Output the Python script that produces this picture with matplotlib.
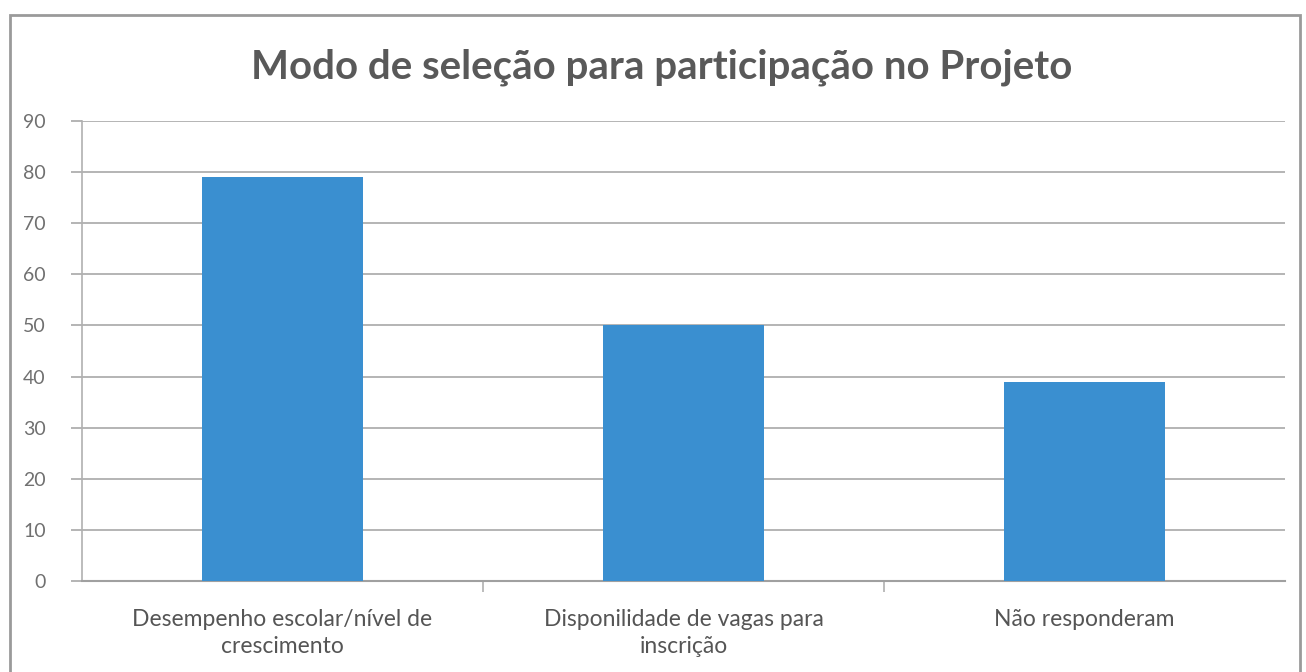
import matplotlib
matplotlib.use("Agg")
import matplotlib.pyplot as plt
from matplotlib.patches import Rectangle

categories = ["Desempenho escolar/nível de\ncrescimento",
              "Disponilidade de vagas para\ninscrição",
              "Não responderam"]
values = [79, 50, 39]
yticks = [0, 10, 20, 30, 40, 50, 60, 70, 80, 90]
title = "Modo de seleção para participação no Projeto"

plt.rcParams['font.family'] = ['Lato', 'DejaVu Sans']

fig = plt.figure(figsize=(13.06, 6.72), dpi=100)
fig.patch.set_facecolor("white")
fig.add_artist(Rectangle((10/1306, -0.01), 1290/1306, 1 - 15/672 + 0.01,
                         transform=fig.transFigure, fill=False,
                         edgecolor="#9a9a9a", linewidth=2.0))

ax = fig.add_axes([82/1306, 1 - 581/672, (1285 - 82)/1306, (581 - 121)/672])
x = list(range(len(categories)))
ax.bar(x, values, width=0.4, color="#3a8fd0", zorder=3)
ax.set_xlim(-0.5, 2.5)
ax.set_ylim(0, 90)
ax.set_yticks(yticks)
ax.set_yticklabels([str(v) for v in yticks], color="#707070", fontsize=14)
ax.yaxis.grid(True, color="#a8a8a8", linewidth=1.2, zorder=0)
ax.set_axisbelow(True)
ax.set_xticks(x)
ax.set_xticklabels(categories, color="#555555", fontsize=16.5,
                   linespacing=1.35, multialignment="center")
ax.tick_params(axis="x", length=0, pad=20)
ax.set_xticks([0.5, 1.5], minor=True)
ax.tick_params(axis="x", which="minor", length=8, color="#b0b0b0", width=1.2)
ax.tick_params(axis="y", length=8, color="#a8a8a8", width=1.2, pad=18)
for s in ["top", "right"]:
    ax.spines[s].set_visible(False)
ax.spines["left"].set_color("#b0b0b0")
ax.spines["left"].set_linewidth(1.2)
ax.spines["bottom"].set_color("#a0a0a0")
ax.spines["bottom"].set_linewidth(1.5)

fig.text(0.507, 1 - 67/672, title, ha="center", va="center",
         fontsize=29, fontweight="bold", color="#595959")

fig.savefig("out.png", dpi=100)
